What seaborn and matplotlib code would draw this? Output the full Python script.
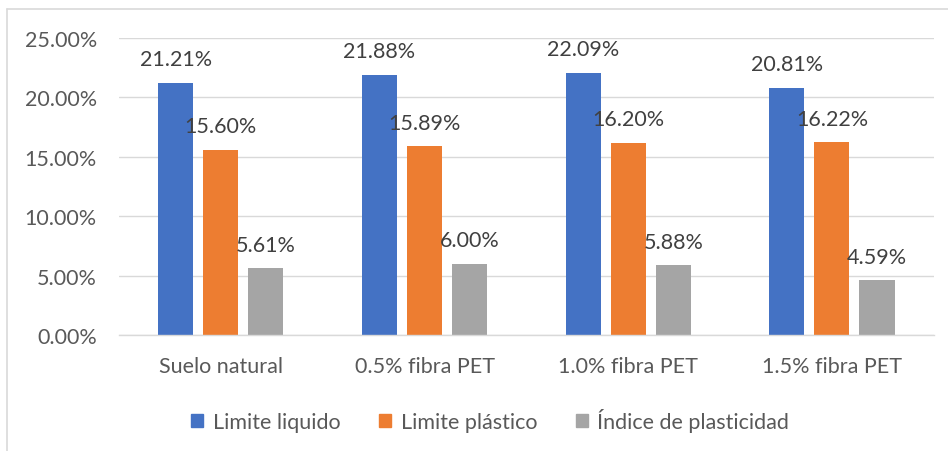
import matplotlib
matplotlib.use("Agg")
import matplotlib.pyplot as plt
from matplotlib.lines import Line2D
from matplotlib.ticker import PercentFormatter
import seaborn as sns
import pandas as pd

# Atterberg limits per soil mix
categories = ["Suelo natural", "0.5% fibra PET", "1.0% fibra PET", "1.5% fibra PET"]
series_names = ["Limite liquido", "Limite plástico", "Índice de plasticidad"]
limite_liquido = [21.21, 21.88, 22.09, 20.81]
limite_plastico = [15.60, 15.89, 16.20, 16.22]
indice_plasticidad = [5.61, 6.00, 5.88, 4.59]
y_ticks = [0, 5, 10, 15, 20, 25]

colors = ["#4472C4", "#ED7D31", "#A5A5A5"]
FS = 15.5

rows = []
for name, vals in zip(series_names, [limite_liquido, limite_plastico, indice_plasticidad]):
    for cat, v in zip(categories, vals):
        rows.append({"categoria": cat, "serie": name, "valor": v / 100.0})
df = pd.DataFrame(rows)

sns.set_theme(style="white")
plt.rcParams["font.family"] = ["Lato", "DejaVu Sans"]

fig = plt.figure(figsize=(9.48, 4.52), dpi=100)
ax = fig.add_axes([0.1255, 0.2566, 0.985 - 0.1255, 0.9137 - 0.2566])

sns.barplot(data=df, x="categoria", y="valor", hue="serie", order=categories,
            hue_order=series_names, palette=colors, width=0.663, gap=0.22,
            saturation=1, edgecolor="none", legend=False, ax=ax)

ax.set_ylim(0, 0.25)
ax.set_xlim(-0.5, len(categories) - 0.5)
ax.set_yticks([t / 100 for t in y_ticks])
ax.yaxis.set_major_formatter(PercentFormatter(xmax=1, decimals=2))
ax.grid(axis="y", color="#d9d9d9", linewidth=1.0)
ax.set_axisbelow(True)
for s in ["top", "right", "left"]:
    ax.spines[s].set_visible(False)
ax.spines["bottom"].set_color("#d9d9d9")
ax.spines["bottom"].set_linewidth(1.0)
ax.tick_params(axis="both", length=0, labelsize=FS, colors="#595959")
ax.tick_params(axis="x", pad=15)
ax.tick_params(axis="y", pad=16)
ax.set_xlabel("")
ax.set_ylabel("")

# value labels above each bar
for cont in ax.containers:
    for bar in cont:
        h = bar.get_height()
        ax.annotate(f"{h * 100:.2f}%", (bar.get_x() + bar.get_width() / 2, h),
                    xytext=(0, 17), textcoords="offset points",
                    ha="center", va="center", fontsize=FS, color="#404040")

handles = [plt.Rectangle((0, 0), 1, 1, color=c) for c in colors]
fig.legend(handles, series_names, loc="center", bbox_to_anchor=(0.517, 0.069),
           ncol=3, frameon=False, fontsize=FS, handlelength=0.55, handleheight=0.55,
           handletextpad=0.45, columnspacing=1.8, labelcolor="#595959")

# chart area border
fig.add_artist(Line2D([7 / 948, 1.0], [1 - 10 / 452, 1 - 10 / 452],
                      transform=fig.transFigure, color="#d9d9d9", linewidth=1.2))
fig.add_artist(Line2D([7 / 948, 7 / 948], [0.0, 1 - 10 / 452],
                      transform=fig.transFigure, color="#d9d9d9", linewidth=1.2))

fig.savefig("out.png", dpi=100, facecolor="white")
